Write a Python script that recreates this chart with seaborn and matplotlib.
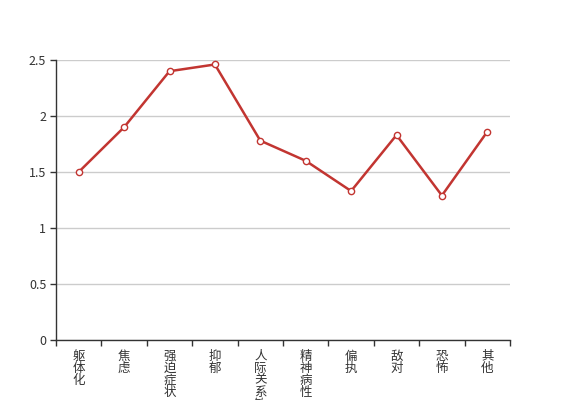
import numpy as np
import pandas as pd
import matplotlib
matplotlib.use("Agg")
import matplotlib.pyplot as plt
import seaborn as sns

# --- Data ---
CATEGORIES = ["躯体化", "焦虑", "强迫症状", "抑郁", "人际关系敏感",
              "精神病性", "偏执", "敌对", "恐怖", "其他"]
SCORES = [1.50, 1.90, 2.40, 2.46, 1.78, 1.60, 1.33, 1.83, 1.29, 1.86]
Y_TICKS = [0, 0.5, 1, 1.5, 2, 2.5]
Y_LABELS = ["0", "0.5", "1", "1.5", "2", "2.5"]

LINE_COLOR = "#c23531"
TEXT_COLOR = "#333333"

sns.set_style("white")
plt.rcParams["font.family"] = ["Noto Sans CJK SC", "DejaVu Sans"]

df = pd.DataFrame({"pos": np.arange(len(CATEGORIES)), "score": SCORES})

fig = plt.figure(figsize=(5.67, 4.0), dpi=100)
ax = fig.add_axes([56 / 567, 60 / 400, 454 / 567, 280 / 400])

sns.lineplot(data=df, x="pos", y="score", ax=ax, color=LINE_COLOR,
             linewidth=1.8, marker="o", markersize=4.5,
             markerfacecolor="white", markeredgecolor=LINE_COLOR,
             markeredgewidth=1, zorder=3)

ax.set_xlim(-0.5, len(CATEGORIES) - 0.5)
ax.set_ylim(0, 2.5)
ax.set_xlabel("")
ax.set_ylabel("")

# y axis
ax.set_yticks(Y_TICKS)
ax.set_yticklabels(Y_LABELS)
ax.yaxis.grid(True, color="#cccccc", linewidth=1)
ax.set_axisbelow(True)
ax.tick_params(axis="y", length=4, width=1, color=TEXT_COLOR,
               labelcolor=TEXT_COLOR, labelsize=9, pad=3, left=True)

# x axis: ticks at boundaries, labels at centers (vertical stacked text)
ax.set_xticks(np.arange(len(CATEGORIES) + 1) - 0.5)
ax.set_xticklabels([])
ax.set_xticks(np.arange(len(CATEGORIES)), minor=True)
ax.set_xticklabels(["\n".join(c) for c in CATEGORIES], minor=True,
                   linespacing=0.9)
ax.tick_params(axis="x", which="major", length=4, width=1,
               color=TEXT_COLOR, bottom=True)
ax.tick_params(axis="x", which="minor", length=0, pad=7,
               labelsize=9, labelcolor=TEXT_COLOR)

for side in ["top", "right"]:
    ax.spines[side].set_visible(False)
for side in ["left", "bottom"]:
    ax.spines[side].set_color(TEXT_COLOR)
    ax.spines[side].set_linewidth(1)

fig.savefig("out.png", dpi=100)
